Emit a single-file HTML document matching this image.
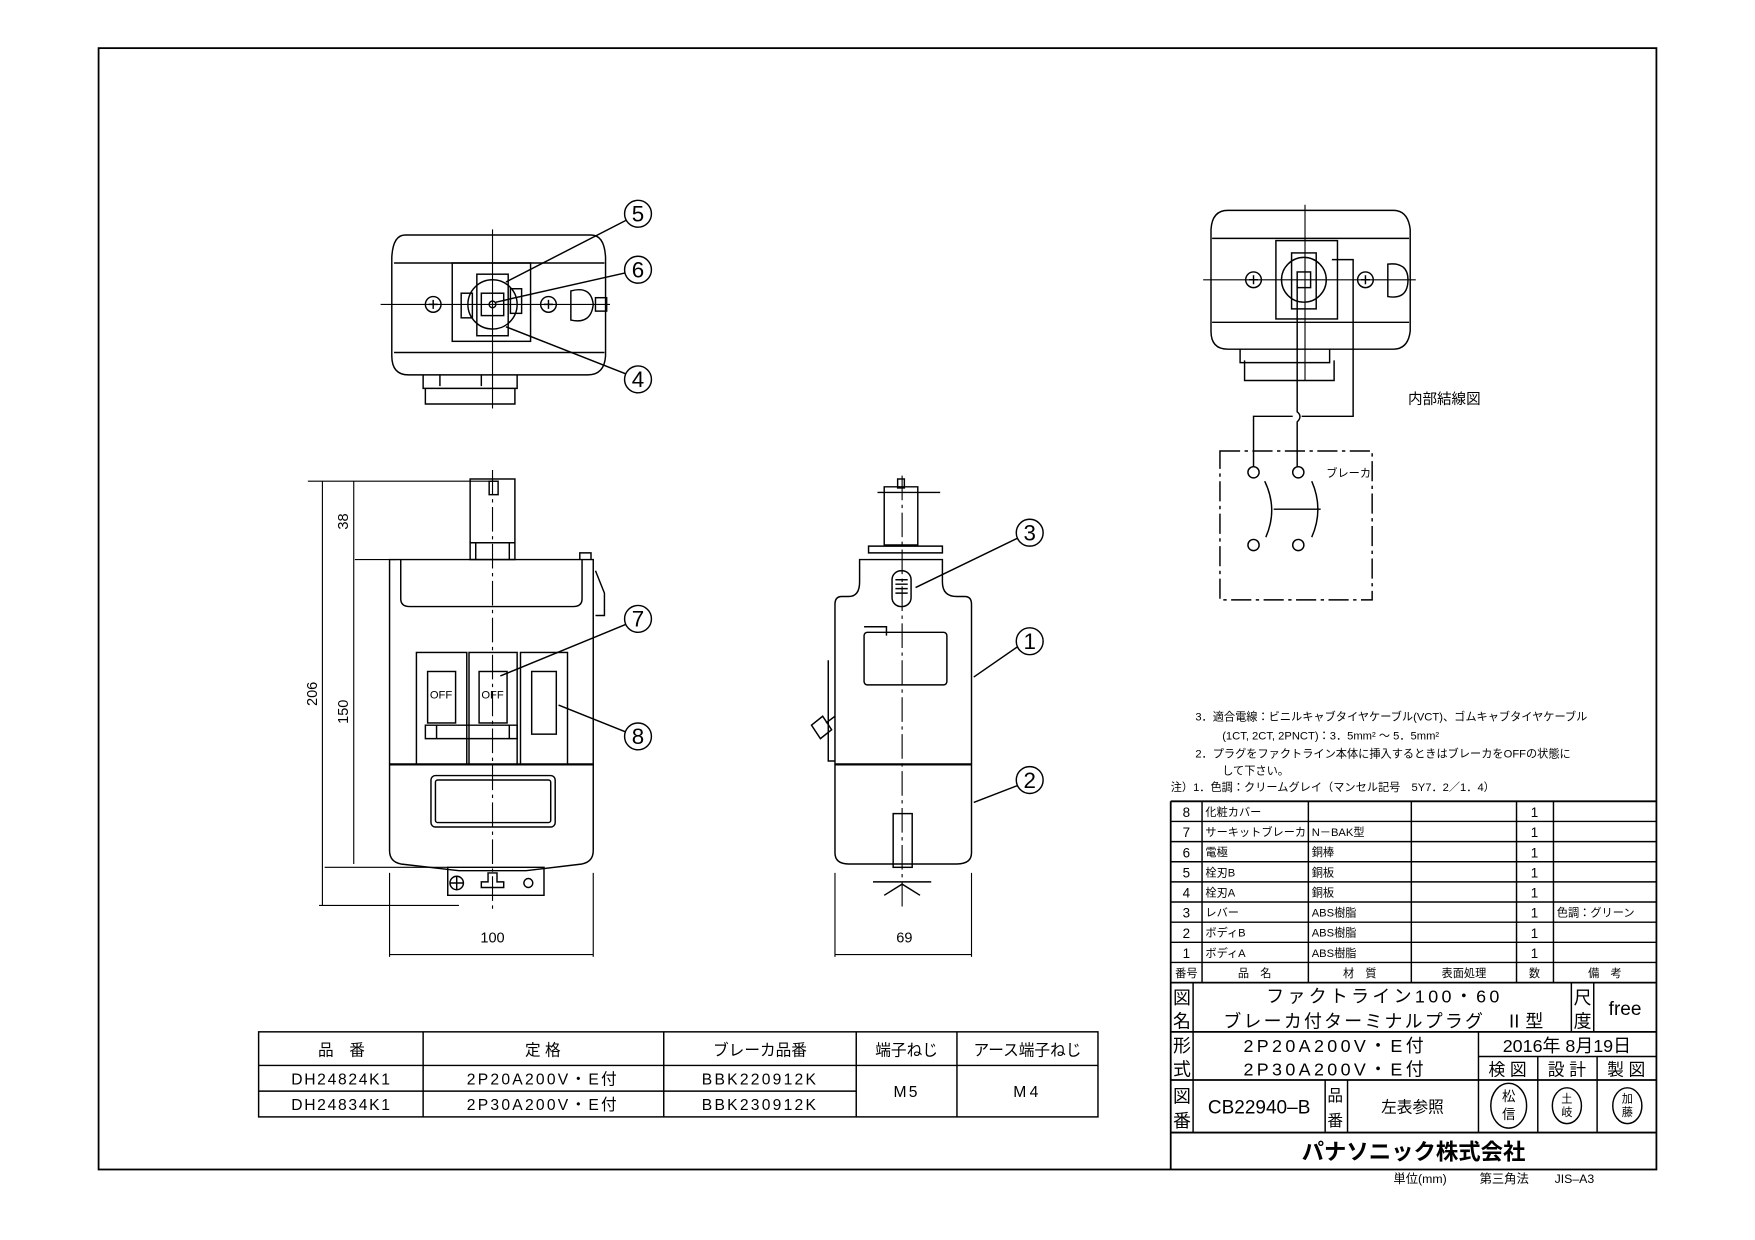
<!DOCTYPE html>
<html><head><meta charset="utf-8"><style>
html,body{margin:0;padding:0;background:#fff;}
svg{display:block;}
text{font-family:"Liberation Sans","Noto Sans CJK JP",sans-serif;fill:#000;}
</style></head><body>
<svg width="1755" height="1240" viewBox="0 0 1568 1108" xmlns="http://www.w3.org/2000/svg">
<g fill="none" stroke="#000" stroke-width="1.3">
<rect x="88" y="43" width="1392" height="1002" stroke-width="1.6"/>

<!-- TOP VIEW LEFT -->
<path d="M362 210 H528 Q540 210 541 230 L541 318 Q540 335 525 335 H365 Q350 335 350 318 V230 Q351 210 362 210 Z"/>
<path d="M352 235 H540 M352 315 H540"/>
<rect x="404" y="235" width="70" height="70"/>
<circle cx="440" cy="272" r="22"/>
<rect x="426" y="245" width="28" height="55"/>
<rect x="430" y="262" width="20" height="20"/>
<circle cx="440" cy="272" r="3"/>
<rect x="412" y="262" width="10" height="22"/>
<rect x="456" y="258" width="10" height="22"/>
<circle cx="387" cy="272" r="7"/><path d="M383 272h8M387 268v8"/>
<circle cx="490" cy="272" r="7"/><path d="M486 272h8M490 268v8"/>
<path d="M510 260 Q528 255 530 272 Q528 290 510 286 Z"/>
<rect x="532" y="266" width="10" height="12"/>
<path d="M378 335 v12 h84 v-12 M393 335v10 M430 335v10"/>
<path d="M380 347 v14 h80 v-14"/>
<path d="M340 272 H545 M440 205 V365" stroke-width="1"/>
<circle cx="570" cy="191" r="12"/><circle cx="570" cy="241" r="12"/><circle cx="570" cy="339" r="12"/>
<path d="M559 197 L452 252 M558 244 L443 270 M559 334 L452 292"/>

<!-- TOP VIEW RIGHT -->
<path d="M1097 188 H1245 Q1258 188 1260 205 L1260 296 Q1258 312 1245 312 H1097 Q1082 312 1082 296 V205 Q1083 188 1097 188 Z"/>
<path d="M1083 213 H1259 M1083 288 H1259"/>
<rect x="1140" y="215" width="55" height="70"/>
<circle cx="1165" cy="250" r="20"/>
<rect x="1154" y="226" width="22" height="50"/>
<rect x="1159" y="243" width="12" height="14"/>
<circle cx="1120" cy="250" r="7"/><path d="M1116 250h8M1120 246v8"/>
<circle cx="1220" cy="250" r="7"/><path d="M1216 250h8M1220 246v8"/>
<path d="M1240 236 Q1258 234 1258 250 Q1258 268 1240 265 Z"/>
<path d="M1108 312 v12 h80 v-12 M1112 322 v18 h80 v-18"/>
<path d="M1075 250 H1265 M1166 183 V340" stroke-width="1"/>
<!-- wires -->
<path d="M1159 255 V368 Q1164 372 1159 377 V417"/>
<path d="M1190 232 H1209 V372 H1163 M1155 372 H1120 V417"/>
<rect x="1090" y="403" width="136" height="133" stroke-dasharray="18 4 3 4"/>
<circle cx="1120" cy="422" r="5"/><circle cx="1160" cy="422" r="5"/>
<circle cx="1120" cy="487" r="5"/><circle cx="1160" cy="487" r="5"/>
<path d="M1130 430 Q1142 455 1131 480 M1172 430 Q1183 455 1172 480 M1138 455 H1180"/>

<!-- FRONT VIEW -->
<path d="M348 500 H530 V760 Q530 770 520 772 L470 778 H410 L358 772 Q348 770 348 760 Z"/>
<rect x="420" y="428" width="40" height="72"/>
<rect x="437" y="430" width="8" height="12"/>
<path d="M420 485 H460 M425 485 V500 M455 485 V500"/>
<path d="M518 500 v-6 h10 v6 M532 510 l8 20 v20 h-8"/>
<path d="M358 500 V535 Q358 542 366 542 H512 Q520 542 520 535 V500"/>
<rect x="372" y="583" width="45" height="100"/>
<rect x="419" y="583" width="43" height="100"/>
<rect x="465" y="583" width="42" height="100"/>
<rect x="382" y="600" width="25" height="46"/>
<rect x="428" y="600" width="25" height="46"/>
<rect x="475" y="600" width="22" height="56"/>
<path d="M380 648 H462 V660 H380 Z M390 648 V660 M455 648 V660"/>
<path d="M348 683 H530" stroke-width="2"/>
<rect x="385" y="693" width="111" height="46" rx="4"/>
<rect x="389" y="697" width="103" height="38" rx="2"/>
<path d="M400 775 h86 v25 h-86 Z"/>
<circle cx="408" cy="789" r="6"/><path d="M402 789h12M408 783v12"/>
<circle cx="472" cy="789" r="4"/>
<path d="M436 780 v8 h-6 v5 h20 v-5 h-6 v-8 Z"/>
<path d="M440 420 V815" stroke-dasharray="22 4 3 4" stroke-width="1"/>
<path d="M275 430 H445 M290 775 H400 M285 809 H410 M317 500 H354" stroke-width="1"/>
<path d="M288 430 V809 M316 430 V500 M316 500 V772" stroke-width="1"/>
<path d="M348 780 V855 M530 780 V855 M348 853 H530" stroke-width="1"/>
<circle cx="570" cy="553" r="12"/><circle cx="570" cy="658" r="12"/>
<path d="M559 558 L447 604 M559 654 L499 630"/>

<!-- SIDE VIEW -->
<path d="M768 500 H842 V520 Q842 533 855 533 H862 Q868 533 868 540 V762 Q868 772 855 772 H758 Q746 772 746 762 V540 Q746 533 752 533 H758 Q768 533 768 520 Z"/>
<path d="M746 683 H868" stroke-width="2"/>
<path d="M740 590 V680 H746"/>
<path d="M725 648 l10 -8 l8 12 l-10 8 Z M738 646 l8 -6"/>
<path d="M790 435 H820 V487 H790 Z M784 440 H840 M776 488 H842 V494 H776 Z"/>
<rect x="802" y="428" width="6" height="8"/>
<rect x="797" y="510" width="17" height="32" rx="8"/>
<path d="M800 518 H811 M800 522 H811 M800 526 H811 M800 530 H811"/>
<rect x="772" y="565" width="74" height="47" rx="3"/>
<path d="M772 560 h20 v8"/>
<rect x="798" y="727" width="17" height="48"/>
<path d="M790 800 l16 -10 l16 10 M780 788 H832"/>
<path d="M806 425 V810" stroke-dasharray="22 4 3 4" stroke-width="1"/>
<path d="M746 780 V855 M868 780 V855 M746 853 H868" stroke-width="1"/>
<circle cx="920" cy="476" r="12"/><circle cx="920" cy="573" r="12"/><circle cx="920" cy="697" r="12"/>
<path d="M909 481 L818 525 M909 578 L870 605 M909 702 L870 717"/>

<!-- LOWER LEFT TABLE -->
<rect x="231" y="922" width="750" height="76"/>
<path d="M231 952 H981 M231 975 H765 M378 922 V998 M593 922 V998 M765 922 V998 M855 922 V998"/>

<!-- PARTS TABLE & TITLE BLOCK -->
<path d="M1046 716 H1480 M1046 716 V1045" stroke-width="1.6"/>
<path d="M1046 734 H1480 M1046 752 H1480 M1046 770 H1480 M1046 788 H1480 M1046 806 H1480 M1046 824 H1480 M1046 842 H1480 M1046 860 H1480"/>
<path d="M1074 716 V878 M1169 716 V878 M1261 716 V878 M1355 716 V878 M1388 716 V878"/>
<path d="M1046 878 H1480 M1046 922 H1480 M1046 965 H1480 M1046 1012 H1480" stroke-width="1.6"/>
<path d="M1066 878 V1012 M1404 878 V922 M1424 878 V922 M1321 922 V1012 M1321 944 H1480 M1374 944 V1012 M1427 944 V1012 M1184 965 V1012 M1204 965 V1012"/>
<ellipse cx="1348" cy="988" rx="16" ry="20"/>
<ellipse cx="1400" cy="988" rx="13" ry="16"/>
<ellipse cx="1454" cy="988" rx="13" ry="16"/>
</g>

<g font-size="20" text-anchor="middle">
<text x="570" y="198">5</text><text x="570" y="248">6</text><text x="570" y="346">4</text>
<text x="570" y="560">7</text><text x="570" y="665">8</text>
<text x="920" y="483">3</text><text x="920" y="580">1</text><text x="920" y="704">2</text>
</g>
<g font-size="13" text-anchor="middle">
<text x="440" y="842">100</text>
<text x="808" y="842">69</text>
<text transform="translate(311,466) rotate(-90)">38</text>
<text transform="translate(311,636) rotate(-90)">150</text>
<text transform="translate(283,620) rotate(-90)">206</text>
</g>
<g font-size="10" text-anchor="middle">
<text x="394" y="624">OFF</text><text x="440" y="624">OFF</text>
</g>
<text x="1258" y="361" font-size="13">内部結線図</text>
<text x="1185" y="426" font-size="10">ブレーカ</text>

<g font-size="14" text-anchor="middle">
<text x="305" y="943">品　番</text><text x="485" y="943">定 格</text><text x="679" y="943">ブレーカ品番</text>
<text x="810" y="943">端子ねじ</text><text x="918" y="943">アース端子ねじ</text>
<text x="305" y="969" letter-spacing="1.5">DH24824K1</text><text x="485" y="969" letter-spacing="2">2P20A200V・E付</text><text x="679" y="969" letter-spacing="2">BBK220912K</text>
<text x="305" y="992" letter-spacing="1.5">DH24834K1</text><text x="485" y="992" letter-spacing="2">2P30A200V・E付</text><text x="679" y="992" letter-spacing="2">BBK230912K</text>
<text x="810" y="980" letter-spacing="2">M5</text><text x="918" y="980" letter-spacing="3">M4</text>
</g>

<g font-size="10">
<text x="1068" y="644">3．適合電線：ビニルキャブタイヤケーブル(VCT)、ゴムキャブタイヤケーブル</text>
<text x="1092" y="661">(1CT, 2CT, 2PNCT)：3．5mm² ～ 5．5mm²</text>
<text x="1068" y="677">2．プラグをファクトライン本体に挿入するときはブレーカをOFFの状態に</text>
<text x="1092" y="692">して下さい。</text>
<text x="1046" y="707">注）1．色調：クリームグレイ（マンセル記号　5Y7．2／1．4）</text>
</g>
<g font-size="10">
<g text-anchor="middle" font-size="12">
<text x="1060" y="730">8</text><text x="1060" y="748">7</text><text x="1060" y="766">6</text><text x="1060" y="784">5</text>
<text x="1060" y="802">4</text><text x="1060" y="820">3</text><text x="1060" y="838">2</text><text x="1060" y="856">1</text>
<text x="1371" y="730">1</text><text x="1371" y="748">1</text><text x="1371" y="766">1</text><text x="1371" y="784">1</text>
<text x="1371" y="802">1</text><text x="1371" y="820">1</text><text x="1371" y="838">1</text><text x="1371" y="856">1</text>
</g>
<text x="1077" y="729">化粧カバー</text><text x="1077" y="747">サーキットブレーカ</text><text x="1077" y="765">電極</text>
<text x="1077" y="783">栓刃B</text><text x="1077" y="801">栓刃A</text><text x="1077" y="819">レバー</text>
<text x="1077" y="837">ボディB</text><text x="1077" y="855">ボディA</text>
<text x="1172" y="747">N－BAK型</text><text x="1172" y="765">銅棒</text><text x="1172" y="783">銅板</text><text x="1172" y="801">銅板</text>
<text x="1172" y="819">ABS樹脂</text><text x="1172" y="837">ABS樹脂</text><text x="1172" y="855">ABS樹脂</text>
<text x="1391" y="819">色調：グリーン</text>
<g text-anchor="middle">
<text x="1060" y="873">番号</text><text x="1121" y="873">品　名</text><text x="1215" y="873">材　質</text>
<text x="1308" y="873">表面処理</text><text x="1371" y="873">数</text><text x="1434" y="873">備　考</text>
</g>
</g>
<g font-size="16">
<text x="1048" y="897">図</text><text x="1048" y="918">名</text>
<text x="1048" y="940">形</text><text x="1048" y="961">式</text>
<text x="1048" y="985">図</text><text x="1048" y="1007">番</text>
<text x="1406" y="897">尺</text><text x="1406" y="918">度</text>
<text x="1186" y="984" font-size="14">品</text><text x="1186" y="1006" font-size="14">番</text>
</g>
<g font-size="16" text-anchor="middle">
<text x="1237" y="896" letter-spacing="3">ファクトライン100・60</text>
<text x="1237" y="918" letter-spacing="2">ブレーカ付ターミナルプラグ　Ⅱ型</text>
<text x="1452" y="907" font-size="17">free</text>
<text x="1193" y="940" letter-spacing="3">2P20A200V・E付</text>
<text x="1193" y="961" letter-spacing="3">2P30A200V・E付</text>
<text x="1400" y="940">2016年 8月19日</text>
<text x="1347" y="961" font-size="15">検 図</text><text x="1400" y="961" font-size="15">設 計</text><text x="1453" y="961" font-size="15">製 図</text>
<text x="1125" y="995" font-size="17">CB22940–B</text>
<text x="1262" y="994" font-size="14">左表参照</text>
<text x="1348" y="984" font-size="12">松</text><text x="1348" y="1000" font-size="12">信</text>
<text x="1400" y="985" font-size="10">土</text><text x="1400" y="997" font-size="10">岐</text>
<text x="1454" y="985" font-size="10">加</text><text x="1454" y="997" font-size="10">藤</text>
<text x="1263" y="1036" font-size="20" font-weight="bold">パナソニック株式会社</text>
</g>
<g font-size="11">
<text x="1245" y="1057">単位(mm)</text><text x="1322" y="1057">第三角法</text><text x="1389" y="1057">JIS–A3</text>
</g>
</svg>
</body></html>
